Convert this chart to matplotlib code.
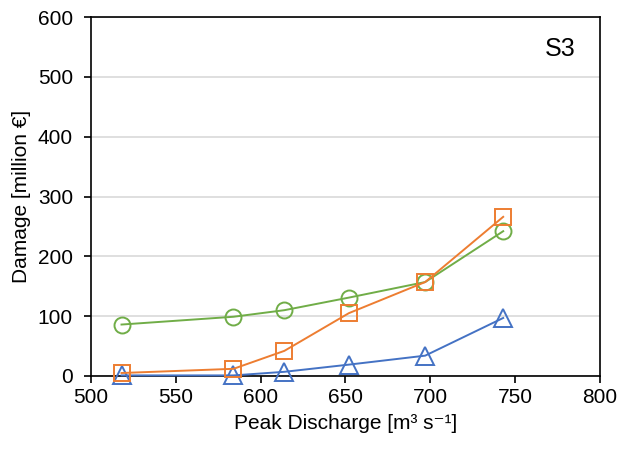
import matplotlib
matplotlib.use("Agg")
import matplotlib.pyplot as plt

plt.rcParams["font.family"] = ["Liberation Sans", "DejaVu Sans"]

# Peak discharge [m3 s-1] and damage [million EUR], scenario S3
discharge = [518, 584, 614, 652, 697, 743]
damage_blue = [1, 1, 7, 19, 34, 97]
damage_orange = [5, 12, 42, 105, 157, 266]
damage_green = [86, 99, 110, 131, 157, 242]

blue = "#4472C4"
orange = "#ED7D31"
green = "#70AD47"

fig = plt.figure(figsize=(6.21, 4.51), dpi=100)
ax = fig.add_axes([0.1465, 0.1663, 0.8195, 0.796])

style = dict(linewidth=1.4, markersize=11.5, markerfacecolor="none",
             markeredgewidth=1.4, clip_on=False, zorder=3)
ax.plot(discharge, damage_blue, marker="^", color=blue,
        **{**style, "markersize": 12.5})
ax.plot(discharge, damage_green, marker="o", color=green, **style)
ax.plot(discharge, damage_orange, marker="s", color=orange, **style)

ax.set_xlim(500, 800)
ax.set_ylim(0, 600)
ax.set_xticks(range(500, 801, 50))
ax.set_yticks(range(0, 601, 100))
ax.yaxis.grid(True, color="#D9D9D9", linewidth=1.2)
ax.set_axisbelow(True)

for spine in ax.spines.values():
    spine.set_linewidth(1.2)

ax.tick_params(axis="both", direction="out", length=5, width=1.2,
               labelsize=15, colors="black")
ax.tick_params(axis="x", pad=4)
ax.tick_params(axis="y", pad=8)

ax.set_xlabel("Peak Discharge [m³ s⁻¹]", fontsize=15, labelpad=5)
ax.set_ylabel("Damage [million €]", fontsize=15, labelpad=5)
ax.text(0.953, 0.911, "S3", transform=ax.transAxes, fontsize=18,
        ha="right", va="center")

fig.savefig("out.png", dpi=100)
